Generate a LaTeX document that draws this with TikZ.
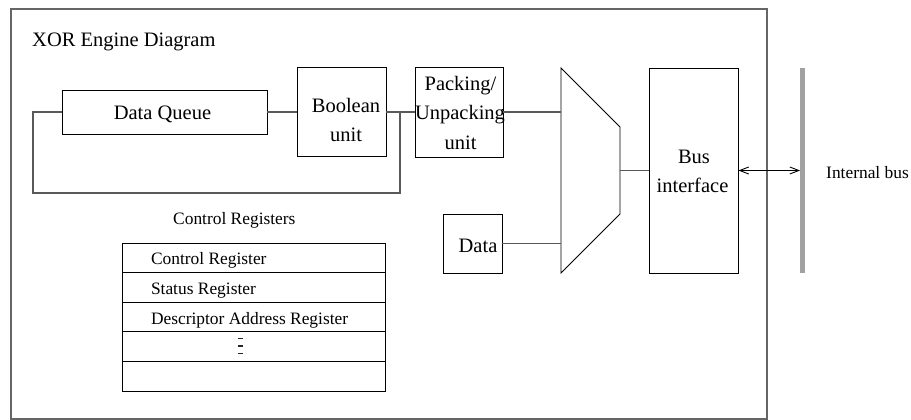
\documentclass[tikz,border=0pt]{standalone}
\usepackage{fontspec}
\setmainfont{Liberation Serif}
\usetikzlibrary{arrows.meta}

\newcommand{\regtext}[1]{\makebox[205pt][l]{#1}}

\begin{document}
\begin{tikzpicture}[x=1pt,y=-1pt,
  box/.style={draw=black, line width=0.9pt, inner sep=0pt, rectangle},
  wire/.style={draw=black!65, line width=1.3pt},
  big/.style={font=\fontsize{20.5}{29}\selectfont, inner sep=0pt, anchor=base},
  small/.style={font=\fontsize{17.4}{21}\selectfont, inner sep=0pt},
  regrow/.style={draw=black, line width=0.9pt, minimum width=263pt,
    minimum height=29.6pt, inner xsep=29pt, inner ysep=0pt,
    text height=14pt, text depth=0pt,
    font=\fontsize{17.4}{21}\selectfont},
  barb/.tip={Straight Barb[length=9pt,width=7pt]}
]
\useasboundingbox (0,0) rectangle (911,420);

% engine frame
\draw[draw=black!60, line width=2pt] (11,9) rectangle (767,419);
\node[big, anchor=base west] (title) at (32,47) {XOR Engine Diagram};

% data path blocks
\node[box, minimum width=205pt, minimum height=44pt] (dq) at (164.5,112) {};
\node[box, minimum width=89pt, minimum height=89.5pt] (bool) at (341.5,112) {};
\node[box, minimum width=88pt, minimum height=90pt] (pack) at (459,112) {};
\node[box, minimum width=59pt, minimum height=59pt] (data) at (472.5,243.5) {};
\node[box, minimum width=89pt, minimum height=205pt] (bif) at (693.5,170.5) {};

% multiplexer
\draw[box] (561,68) -- (620,127) -- (620,214) -- (561,273) -- cycle;
\coordinate (muxa) at (561,112);
\coordinate (muxb) at (561,243.5);
\coordinate (muxo) at (620,170.5);

% internal bus
\node[fill=black!37, inner sep=0pt, minimum width=4.5pt, minimum height=205pt] (bus) at (802.5,170.5) {};

% labels
\node[big] (tdq) at (162.5,120) {Data Queue};
\node[big] (tbool1) at (346,113) {Boolean};
\node[big] (tbool2) at (346,142) {unit};
\node[big] (tpack1) at (460.5,90.5) {Packing/};
\node[big] (tpack2) at (460,120) {Unpacking};
\node[big] (tpack3) at (460.5,149) {unit};
\node[big] (tbus1) at (694,163.5) {Bus};
\node[big] (tbus2) at (692.5,192.5) {interface};
\node[big] (tdata) at (478,252) {Data};
\node[small, anchor=base west] (tib) at (826,178) {Internal bus};

% connections
\coordinate (j) at (400,112);
\coordinate (fl) at (33,193);
\draw[wire] (dq.east) -- (bool.west);
\draw[wire] (bool.east) -- (pack.west);
\draw[wire] (dq.west) -| (fl) -| (j);
\draw[wire] (pack.east) -- (muxa);
\draw[wire] (data.east) -- (muxb);
\draw[wire] (muxo) -- (bif.west);
\draw[black, line width=0.9pt, barb-barb] (bif.east) -- (bus.west);

% control register file
\node[small, anchor=base west] (tcr) at (173,224) {Control Registers};
\node[regrow] (r1) at (253.5,257.8) {\regtext{Control Register}};
\node[regrow] (r2) at (253.5,287.4) {\regtext{Status Register}};
\node[regrow] (r3) at (253.5,317) {\regtext{Descriptor Address Register}};
\node[regrow] (r4) at (253.5,346.6) {\regtext{}};
\node[regrow] (r5) at (253.5,376.2) {\regtext{}};
\draw[black!85, line width=1.6pt] (237.7,338.3) -- (243.3,338.3)
  (237.7,346) -- (243.3,346) (237.7,353.5) -- (243.3,353.5);
\end{tikzpicture}
\end{document}
